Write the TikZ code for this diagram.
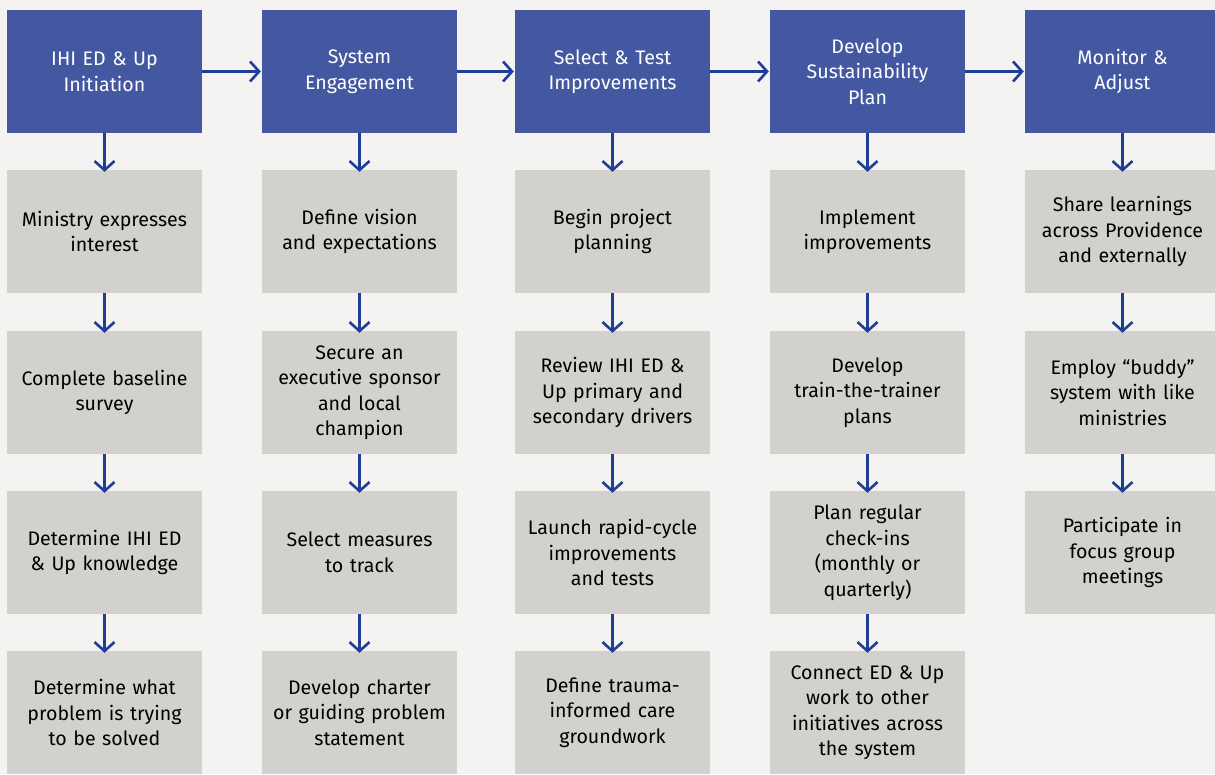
\documentclass[tikz,border=0pt]{standalone}
\usepackage{fontspec}
\setmainfont{Fira Sans}
\usetikzlibrary{arrows.meta}
\definecolor{bg}{HTML}{F4F3F1}
\definecolor{hdr}{HTML}{4358A0}
\definecolor{box}{HTML}{D3D1CD}
\definecolor{arr}{HTML}{1E3F94}
\tikzset{
  base/.style={minimum width=195pt,minimum height=123pt,inner sep=0pt,text width=193pt,align=center,
    font=\fontsize{19.6pt}{25.5pt}\selectfont},
  hbox/.style={base,fill=hdr,text=white},
  gbox/.style={base,fill=box,text=black},
  conn/.style={draw=arr,line width=2.6pt,-{Straight Barb[length=9pt,width=20pt,line width=2.6pt]}},
}
\begin{document}
\begin{tikzpicture}[x=1pt,y=-1pt]
\useasboundingbox[fill=bg] (0,0) rectangle (1215,774);
\begin{scope}
\clip (0,0) rectangle (1215,774);
% headers
\node[hbox] (h1) at (104.5,71.5) {IHI ED \& Up\\Initiation};
\node[hbox] (h2) at (359.5,71.5) {System\\Engagement};
\node[hbox] (h3) at (612.5,71.5) {Select \& Test\\Improvements};
\node[hbox] (h4) at (867.5,71.5) {Develop\\Sustainability\\Plan};
\node[hbox] (h5) at (1122.5,71.5) {Monitor \&\\Adjust};
% column 1
\node[gbox] (a1) at (104.5,231.5) {Ministry expresses\\interest};
\node[gbox] (a2) at (104.5,392.5) {Complete baseline\\survey};
\node[gbox] (a3) at (104.5,552.5) {Determine IHI ED\\\& Up knowledge};
\node[gbox] (a4) at (104.5,712.5) {Determine what\\problem is trying\\to be solved};
% column 2
\node[gbox] (b1) at (359.5,231.5) {Define vision\\and expectations};
\node[gbox] (b2) at (359.5,392.5) {Secure an\\executive sponsor\\and local\\champion};
\node[gbox] (b3) at (359.5,552.5) {Select measures\\to track};
\node[gbox] (b4) at (359.5,712.5) {Develop charter\\or guiding problem\\statement};
% column 3
\node[gbox] (c1) at (612.5,231.5) {Begin project\\planning};
\node[gbox] (c2) at (612.5,392.5) {Review IHI ED \&\\Up primary and\\secondary drivers};
\node[gbox] (c3) at (612.5,552.5) {Launch rapid-cycle\\improvements\\and tests};
\node[gbox] (c4) at (612.5,712.5) {Define trauma-\\informed care\\groundwork};
% column 4
\node[gbox] (d1) at (867.5,231.5) {Implement\\improvements};
\node[gbox] (d2) at (867.5,392.5) {Develop\\train-the-trainer\\plans};
\node[gbox] (d3) at (867.5,552.5) {Plan regular\\check-ins\\(monthly or\\quarterly)};
\node[gbox] (d4) at (867.5,712.5) {Connect ED \& Up\\work to other\\initiatives across\\the system};
% column 5
\node[gbox] (e1) at (1122.5,231.5) {Share learnings\\across Providence\\and externally};
\node[gbox] (e2) at (1122.5,392.5) {Employ “buddy”\\system with like\\ministries};
\node[gbox] (e3) at (1122.5,552.5) {Participate in\\focus group\\meetings};
\end{scope}
% horizontal
\foreach \p/\q in {h1/h2,h2/h3,h3/h4,h4/h5}
  \draw[conn] (\p.east) -- ([xshift=-1pt]\q.west);
% vertical
\foreach \p/\q in {h1/a1,a1/a2,a2/a3,a3/a4,h2/b1,b1/b2,b2/b3,b3/b4,h3/c1,c1/c2,c2/c3,c3/c4,h4/d1,d1/d2,d2/d3,d3/d4,h5/e1,e1/e2,e2/e3}
  \draw[conn] (\p.south) -- ([yshift=-2pt]\q.north);
\end{tikzpicture}
\end{document}
